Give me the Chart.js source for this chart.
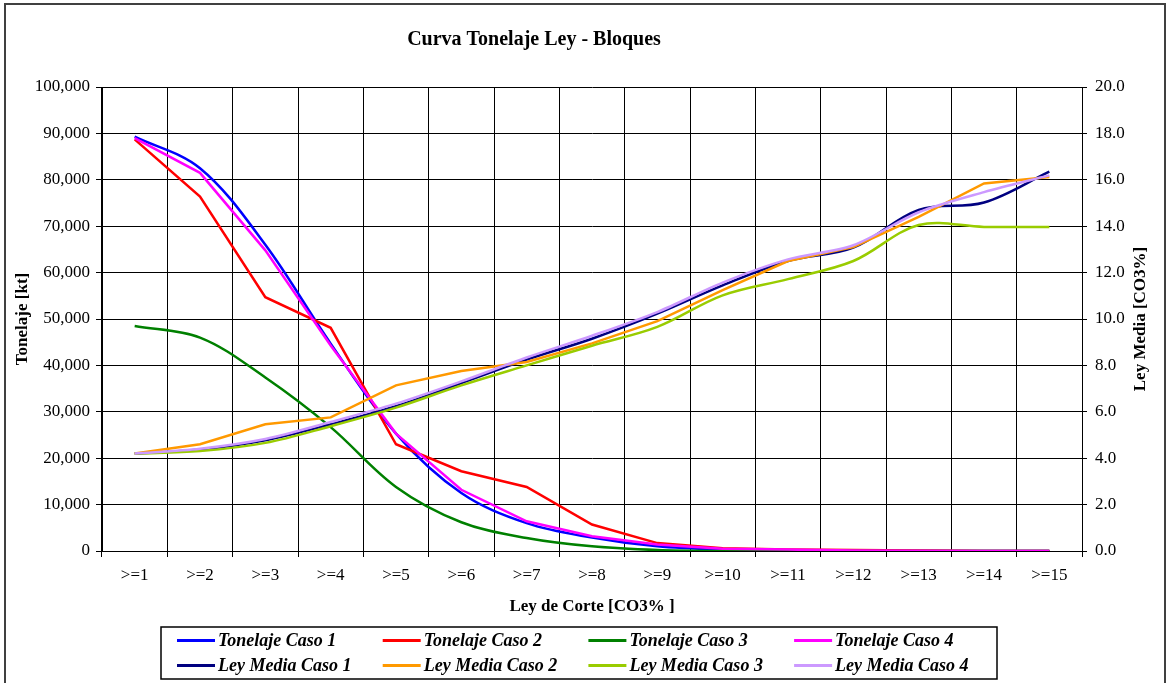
<!DOCTYPE html>
<html lang="es">
<head>
<meta charset="utf-8">
<title>Curva Tonelaje Ley - Bloques</title>
<script src="https://cdn.jsdelivr.net/npm/chart.js@4.4.1/dist/chart.umd.min.js"></script>
<style>
  html, body { margin: 0; padding: 0; background: #fff; }
  #chart-box { width: 1168px; height: 683px; }
</style>
</head>
<body>
<div id="chart-box"><canvas id="curve-chart" width="1168" height="683"></canvas></div>
<script>
'use strict'

// **** DATA ****
let cutoffLabels = ['>=1', '>=2', '>=3', '>=4', '>=5', '>=6', '>=7', '>=8', '>=9', '>=10', '>=11', '>=12', '>=13', '>=14', '>=15'];

// tonelaje [kt]
let tonCaso1 = [89300, 82500, 66000, 44700, 25300, 12500, 6000, 2900, 1000, 300, 150, 50, 0, 0, 0];
let tonCaso2 = [88700, 76400, 54700, 48100, 23000, 17200, 13800, 5700, 1700, 600, 300, 200, 100, 0, 0];
let tonCaso3 = [48500, 46000, 37400, 26700, 13800, 6200, 2800, 1000, 200, 0, 0, 0, 0, 0, 0];
let tonCaso4 = [89000, 81500, 64800, 44300, 25300, 13200, 6400, 3200, 1400, 500, 300, 100, 50, 0, 0];

// ley media [CO3%]
let leyCaso1 = [4.2, 4.37, 4.77, 5.46, 6.24, 7.24, 8.25, 9.15, 10.23, 11.45, 12.5, 13.08, 14.7, 15.02, 16.35];
let leyCaso2 = [4.2, 4.6, 5.46, 5.76, 7.14, 7.76, 8.15, 8.95, 9.91, 11.24, 12.5, 13.1, 14.4, 15.84, 16.12];
let leyCaso3 = [4.2, 4.31, 4.66, 5.38, 6.18, 7.14, 8.0, 8.85, 9.66, 11.02, 11.72, 12.5, 14.05, 13.97, 13.97];
let leyCaso4 = [4.2, 4.41, 4.83, 5.56, 6.35, 7.31, 8.34, 9.28, 10.3, 11.57, 12.57, 13.18, 14.6, 15.47, 16.19];

// axis ranges
let tonRange = { min: 0, max: 100000, step: 10000 };
let leyRange = { min: 0, max: 20, step: 2 };

// **** STYLE ****
const SERIF = "'Liberation Serif', 'Times New Roman', serif";
Chart.defaults.font.family = SERIF;
Chart.defaults.color = '#000';

// **** HELPERS ****
function withCommas(v) {
  return String(v).replace(/\B(?=(\d{3})+(?!\d))/g, ',');
}

function makeSet(label, values, color, axis, tension) {
  return {
    label: label,
    data: values,
    borderColor: color,
    backgroundColor: color,
    borderWidth: 2.5,
    pointRadius: 0,
    pointHoverRadius: 0,
    tension: tension,
    fill: false,
    yAxisID: axis
  };
}

let datasets = [
  makeSet('Tonelaje Caso 1', tonCaso1, '#0000FF', 'yTon', 0.35),
  makeSet('Tonelaje Caso 2', tonCaso2, '#FF0000', 'yTon', 0),
  makeSet('Tonelaje Caso 3', tonCaso3, '#008000', 'yTon', 0.35),
  makeSet('Tonelaje Caso 4', tonCaso4, '#FF00FF', 'yTon', 0),
  makeSet('Ley Media Caso 1', leyCaso1, '#000080', 'yLey', 0.35),
  makeSet('Ley Media Caso 2', leyCaso2, '#FF9900', 'yLey', 0),
  makeSet('Ley Media Caso 3', leyCaso3, '#99CC00', 'yLey', 0.35),
  makeSet('Ley Media Caso 4', leyCaso4, '#CC99FF', 'yLey', 0.3)
];
// later series on top, like the spreadsheet
datasets.forEach((d, i) => { d.order = datasets.length - i; });

// **** PLUGINS ****
let framePlugin = {
  id: 'frame',
  afterDraw(chart) {
    let ctx = chart.ctx;
    let area = chart.chartArea;
    ctx.save();
    ctx.strokeStyle = '#404040';
    ctx.lineWidth = 2;
    ctx.strokeRect(5, 4, 1160, 700);

    // title
    ctx.fillStyle = '#000';
    ctx.font = 'bold 20px ' + SERIF;
    ctx.textAlign = 'center';
    ctx.textBaseline = 'middle';
    ctx.fillText('Curva Tonelaje Ley - Bloques', 534, 40);

    // right axis title, reads bottom to top
    ctx.font = 'bold 17px ' + SERIF;
    ctx.translate(1141, (area.top + area.bottom) / 2);
    ctx.rotate(-Math.PI / 2);
    ctx.fillText('Ley Media [CO3%]', 0, 0);
    ctx.restore();
  }
};

let legendPlugin = {
  id: 'boxLegend',
  afterDraw(chart) {
    let ctx = chart.ctx;
    let sets = chart.data.datasets;
    ctx.save();
    ctx.strokeStyle = '#000';
    ctx.lineWidth = 1.5;
    ctx.strokeRect(161, 627, 836, 52);
    ctx.font = 'italic bold 18px ' + SERIF;
    ctx.textAlign = 'left';
    ctx.textBaseline = 'middle';
    for (let i = 0; i < sets.length; i++) {
      let col = i % 4;
      let row = Math.floor(i / 4);
      let x = 177 + col * 205.7;
      let y = 640.5 + row * 25;
      ctx.strokeStyle = sets[i].borderColor;
      ctx.lineWidth = 3;
      ctx.beginPath();
      ctx.moveTo(x, y);
      ctx.lineTo(x + 38, y);
      ctx.stroke();
      ctx.fillStyle = '#000';
      ctx.fillText(sets[i].label, x + 41, y + 1);
    }
    ctx.restore();
  }
};

// **** CHART ****
let ctx = document.getElementById('curve-chart');
let curveChart = new Chart(ctx, {
  type: 'line',
  data: {
    labels: cutoffLabels,
    datasets: datasets
  },
  options: {
    responsive: false,
    animation: false,
    layout: { padding: { top: 87, bottom: 62, left: 0, right: 0 } },
    plugins: {
      legend: { display: false },
      title: { display: false },
      tooltip: { enabled: false }
    },
    scales: {
      x: {
        type: 'category',
        offset: true,
        grid: { offset: true, color: '#000', lineWidth: 1, tickLength: 6, drawTicks: true },
        border: { color: '#000', width: 1 },
        ticks: { font: { size: 17 }, padding: 8, maxRotation: 0, autoSkip: false },
        title: {
          display: true,
          text: 'Ley de Corte [CO3% ]',
          font: { size: 17, weight: 'bold' },
          padding: { top: 0, bottom: 4 }
        },
        afterFit(scale) { scale.height = 70; }
      },
      yTon: {
        position: 'left',
        min: tonRange.min,
        max: tonRange.max,
        grid: { color: '#000', lineWidth: 1, tickLength: 6 },
        border: { color: '#000', width: 1 },
        ticks: { stepSize: tonRange.step, font: { size: 17 }, padding: 6, callback: v => withCommas(v) },
        title: {
          display: true,
          text: 'Tonelaje [kt]',
          font: { size: 17, weight: 'bold' },
          padding: { top: 12, bottom: 0 }
        },
        afterFit(scale) { scale.width = 102; }
      },
      yLey: {
        position: 'right',
        min: leyRange.min,
        max: leyRange.max,
        grid: { drawOnChartArea: false, color: '#000', lineWidth: 1, tickLength: 5 },
        border: { color: '#000', width: 1 },
        ticks: { stepSize: leyRange.step, font: { size: 17 }, padding: 8, callback: v => v.toFixed(1) },
        title: { display: false },
        afterFit(scale) { scale.width = 86; }
      }
    }
  },
  plugins: [framePlugin, legendPlugin]
});
</script>
</body>
</html>
